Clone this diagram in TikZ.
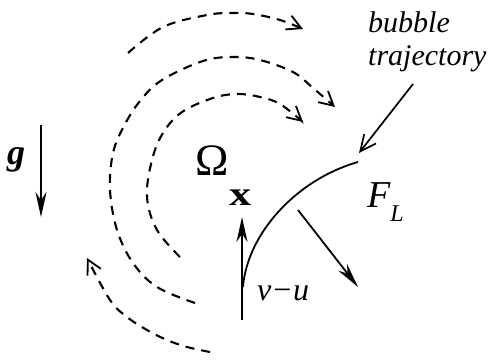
\documentclass[tikz,border=0pt]{standalone}
\usepackage{fontspec}
\setmainfont{Liberation Serif}
\usetikzlibrary{arrows.meta, positioning}

\begin{document}
\begin{tikzpicture}[
    x=1pt, y=-1pt,
    flow/.style={line width=2.1pt, dash pattern=on 9pt off 7pt, -{Straight Barb[length=14pt, width=15pt, line width=1.8pt]}},
    force/.style={line width=1.8pt, -{Stealth[length=25pt, width=11pt]}},
    pointer/.style={line width=1.7pt, -{Straight Barb[length=16pt, width=15pt, line width=1.7pt]}},
    lbl/.style={inner sep=0pt, anchor=base west},
  ]
  \useasboundingbox (0,0) rectangle (492,360);

  % recirculating flow around the bubble
  \draw[flow] plot[smooth, tension=0.6] coordinates {(128,53) (163,27) (207,15) (233,13) (253,14) (280,20) (303,29)};
  \draw[flow] plot[smooth, tension=0.6] coordinates {(195,303) (157,287) (133,263) (117,230) (110,190) (113,153) (124,126) (140,101) (162,80) (203,61) (233,57) (260,60) (293,72) (313,88) (335,107)};
  \draw[flow] plot[smooth, tension=0.6] coordinates {(180,257) (157,230) (147,197) (152,160) (163,133) (182,112) (213,98) (237,94) (260,97) (280,104) (303,122)};
  \draw[flow] plot[smooth, tension=0.6] coordinates {(210,352) (187,347) (167,340) (147,330) (127,317) (110,300) (87,258)};

  % gravity
  \coordinate (gtop) at (41,125);
  \coordinate (gbot) at (41,217);
  \draw[force] (gtop) -- (gbot);
  \node[lbl, font=\fontsize{36}{38}\selectfont\bfseries\itshape] (glabel) at (7,164) {g};

  % vorticity
  \node[lbl, font=\fontsize{45}{47}\selectfont] (omega) at (195,175) {Ω};
  \node[lbl, font=\fontsize{34}{36}\selectfont\bfseries] (omegax) at (229,205) {\scalebox{1.3}[1]{x}};

  % bubble path and relative velocity
  \coordinate (vbot) at (242,320);
  \coordinate (vtop) at (242,217);
  \coordinate (pstart) at (243,287);
  \coordinate (pend) at (358,162);
  \draw[force] (vbot) -- (vtop);
  \draw[line width=1.8pt] (pstart) .. controls (247,235) and (295,180) .. (pend);
  \node[lbl, font=\fontsize{32}{34}\selectfont\itshape] (vu) at (257,300) {v−u};

  % lift force
  \coordinate (fstart) at (298,210);
  \coordinate (fend) at (358,287);
  \draw[force] (fstart) -- (fend);
  \node[lbl, font=\fontsize{38}{40}\selectfont\itshape] (flift) at (367,207) {F\raisebox{-14pt}{\fontsize{24}{26}\selectfont L}};

  % trajectory label
  \node[lbl, font=\fontsize{30}{32}\selectfont\itshape] (bubble) at (368,32) {bubble};
  \node[lbl, font=\fontsize{30}{32}\selectfont\itshape] (traj) at (368,65) {trajectory};
  \coordinate (tstart) at (413,84);
  \coordinate (tend) at (359,153);
  \draw[pointer] (tstart) -- (tend);

\end{tikzpicture}
\end{document}
